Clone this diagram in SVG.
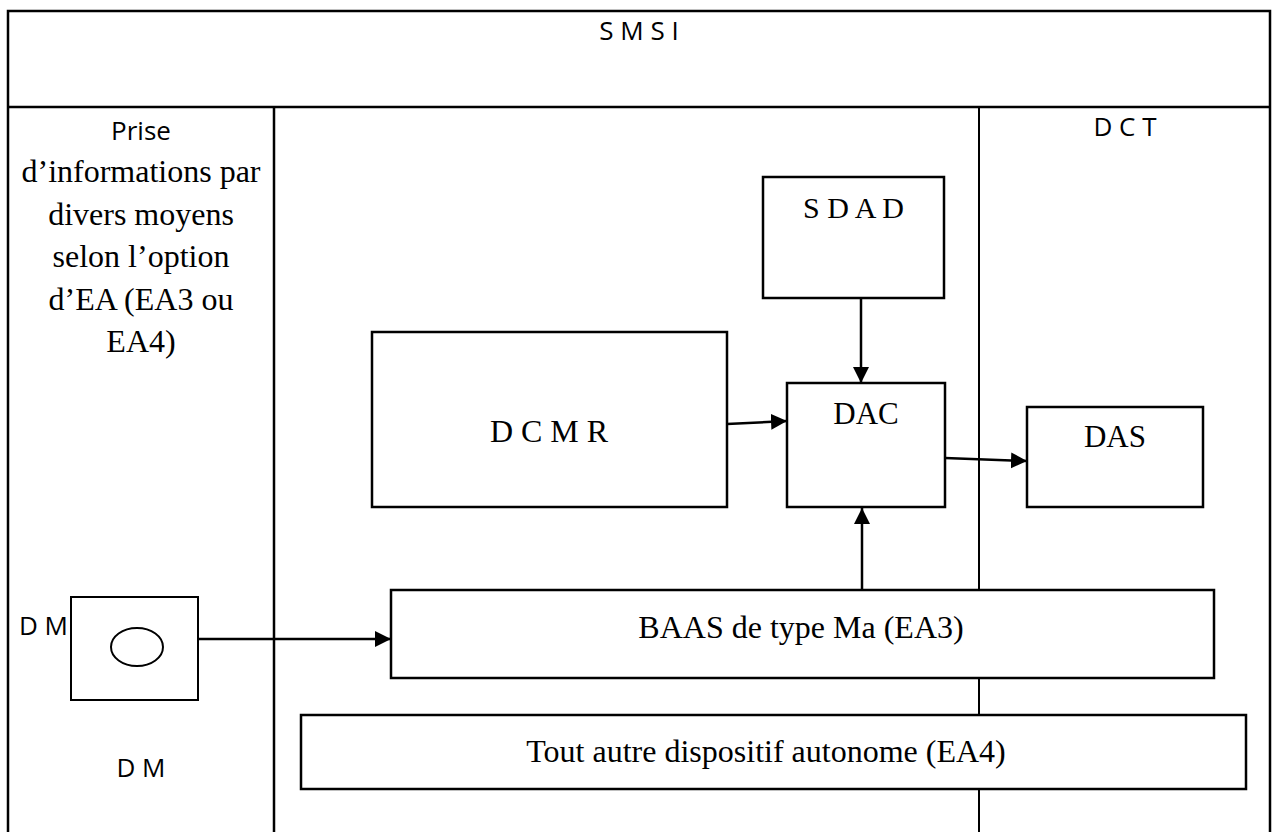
<svg xmlns="http://www.w3.org/2000/svg" width="1274" height="832" viewBox="0 0 1274 832">
<style>
.frame{fill:none;stroke:#000;stroke-width:2.5}
.box{fill:#fff;stroke:#000;stroke-width:2.5}
.conn{fill:none;stroke:#000;stroke-width:2.5}
.sans{font-family:"Open Sans","Liberation Sans",sans-serif;font-size:26px;fill:#000}
.serif{font-family:"Liberation Serif","Times New Roman",serif;font-size:32px;fill:#000}
.mid{text-anchor:middle}
</style>
<defs>
<marker id="arr" markerUnits="userSpaceOnUse" markerWidth="18" markerHeight="18" refX="16" refY="8" orient="auto" viewBox="0 0 18 18">
<path d="M0,0 L16,8 L0,16 Z" fill="#000"/>
</marker>
</defs>
<rect width="1274" height="832" fill="#fff"/>
<g id="frame">
<path class="frame" d="M8,840 V11 H1270 V840"/>
<line class="frame" x1="8" y1="107" x2="1270" y2="107"/>
<line class="frame" x1="274" y1="107" x2="274" y2="840"/>
<line class="frame" x1="979" y1="107" x2="979" y2="840" style="stroke-width:2"/>
<text class="sans mid" x="639" y="40">S M S I</text>
<text class="sans mid" x="1125" y="136">D C T</text>
</g>
<g id="left-column">
<text class="sans mid" x="141" y="140">Prise</text>
<text class="serif mid" x="141" y="182">d’informations par</text>
<text class="serif mid" x="141" y="224.5">divers moyens</text>
<text class="serif mid" x="141" y="267">selon l’option</text>
<text class="serif mid" x="141" y="309.5">d’EA (EA3 ou</text>
<text class="serif mid" x="141" y="352">EA4)</text>
</g>
<g id="connectors">
<line class="conn" x1="198" y1="639" x2="391" y2="639" marker-end="url(#arr)"/>
<line class="conn" x1="861" y1="298" x2="861" y2="383" marker-end="url(#arr)"/>
<line class="conn" x1="727" y1="424" x2="787" y2="421" marker-end="url(#arr)"/>
<line class="conn" x1="945" y1="458" x2="1027" y2="461" marker-end="url(#arr)"/>
<line class="conn" x1="862" y1="590" x2="862" y2="508" marker-end="url(#arr)"/>
</g>
<g id="node-sdad">
<rect class="box" x="763" y="177" width="181" height="121"/>
<text class="serif mid" x="853.5" y="218" style="font-size:30px">S D A D</text>
</g>
<g id="node-dcmr">
<rect class="box" x="372" y="332" width="355" height="175"/>
<text class="serif mid" x="549" y="442">D C M R</text>
</g>
<g id="node-dac">
<rect class="box" x="787" y="383" width="158" height="124"/>
<text class="serif mid" x="866" y="424" style="font-size:31px">DAC</text>
</g>
<g id="node-das">
<rect class="box" x="1027" y="407" width="176" height="100"/>
<text class="serif mid" x="1115" y="447" style="font-size:31px">DAS</text>
</g>
<g id="node-baas">
<rect class="box" x="391" y="590" width="823" height="88"/>
<text class="serif mid" x="801" y="638">BAAS de type Ma (EA3)</text>
</g>
<g id="node-autre">
<rect class="box" x="301" y="715" width="945" height="74"/>
<text class="serif mid" x="766" y="762">Tout autre dispositif autonome (EA4)</text>
</g>
<g id="node-dm">
<rect class="box" x="71" y="597" width="127" height="103" style="stroke-width:2"/>
<ellipse cx="137" cy="647" rx="26" ry="19" fill="none" stroke="#000" stroke-width="2"/>
<text class="sans" x="19" y="635">D M</text>
<text class="sans mid" x="141" y="777">D M</text>
</g>
</svg>
